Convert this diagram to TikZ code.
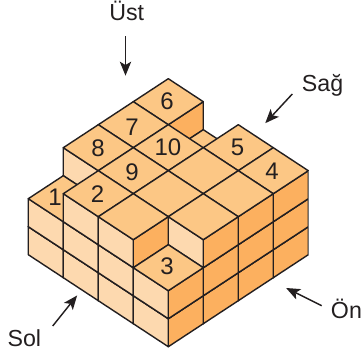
\documentclass[tikz,border=0pt]{standalone}
\usepackage{xcolor}
\usepackage{fontspec}
\setmainfont{Liberation Sans}
\usetikzlibrary{arrows.meta}
\definecolor{inkdark}{HTML}{231F20}
\definecolor{topface}{HTML}{FCC785}
\definecolor{leftface}{HTML}{FDD9AF}
\definecolor{rightface}{HTML}{FCB05F}

\begin{document}
\begin{tikzpicture}[
    x=0.75pt,y=-0.75pt,%reference pixels
    face/.style={
        draw = inkdark,
        line width = 1.05pt,
        line join = round
      },
    number/.style={
        inner sep = 0pt,
        text = inkdark,
        font=\fontsize{18}{20}\selectfont
      },
    label/.style={
        inner sep = 0pt,
        anchor = base west,
        text = inkdark,
        font=\fontsize{17.4}{20}\selectfont
      },
    pointer/.style={
        draw = inkdark,
        line width = 1.1pt,
        -{Stealth[length=10.5pt,width=8.5pt,inset=2.5pt]},
        shorten >=-0.5pt
      },
    cube/.pic={
        \path [face,fill=rightface] (0,0,0) -- (1,0,0) -- (1,0,1) -- (0,0,1) -- cycle;
        \path [face,fill=leftface] (0,0,0) -- (0,1,0) -- (0,1,1) -- (0,0,1) -- cycle;
        \path [face,fill=topface] (0,0,1) -- (1,0,1) -- (1,1,1) -- (0,1,1) -- cycle;
      }
  ]
  \useasboundingbox (0,0) rectangle (362,354);

  % back to front: column i/j and its height
  \begin{scope}[shift={(168.3,346.7)},x={(26.25pt,17.25pt)},y={(-26.25pt,17.25pt)},z={(0pt,21pt)}]
    \foreach \i/\j/\h in {3/3/3,3/2/2,3/1/3,3/0/3,
        2/3/3,2/2/3,2/1/3,2/0/3,
        1/3/3,1/2/3,1/1/3,1/0/3,
        0/3/2,0/2/3,0/1/3,0/0/2}
      \foreach \k in {1,...,\h}
        \pic at (\i,\j,\k-1) {cube};
    \draw [face,draw=black!55] (4,0,0) -- (4,0,3); %paler outer edge
  \end{scope}

  % numbers on the top faces
  \foreach \n/\px/\py in {1/55/197,2/97.5/194,3/167/266,4/272/171,5/237.5/147,
      6/167/101,7/132/127,8/98/148.5,9/132/172.5,10/168/147}
    \node (n\n) [number] at (\px,\py) {\n};

  \node (top) [label] at (109,20.7) {Üst};
  \node (right) [label] at (301.7,91.7) {Sağ};
  \node (left) [label] at (7.3,346) {Sol};
  \node (front) [label] at (330.7,318.3) {Ön};

  \coordinate (topTail) at (125.5,36);
  \coordinate (topTip) at (125.5,75);
  \coordinate (rightTail) at (292.3,94);
  \coordinate (rightTip) at (265.7,122.7);
  \coordinate (leftTail) at (52.7,326);
  \coordinate (leftTip) at (76.7,296);
  \coordinate (frontTail) at (321.7,305.7);
  \coordinate (frontTip) at (286.7,288.3);

  \draw [pointer] (topTail) -- (topTip);
  \draw [pointer] (rightTail) -- (rightTip);
  \draw [pointer] (leftTail) -- (leftTip);
  \draw [pointer] (frontTail) -- (frontTip);
\end{tikzpicture}
\end{document}
